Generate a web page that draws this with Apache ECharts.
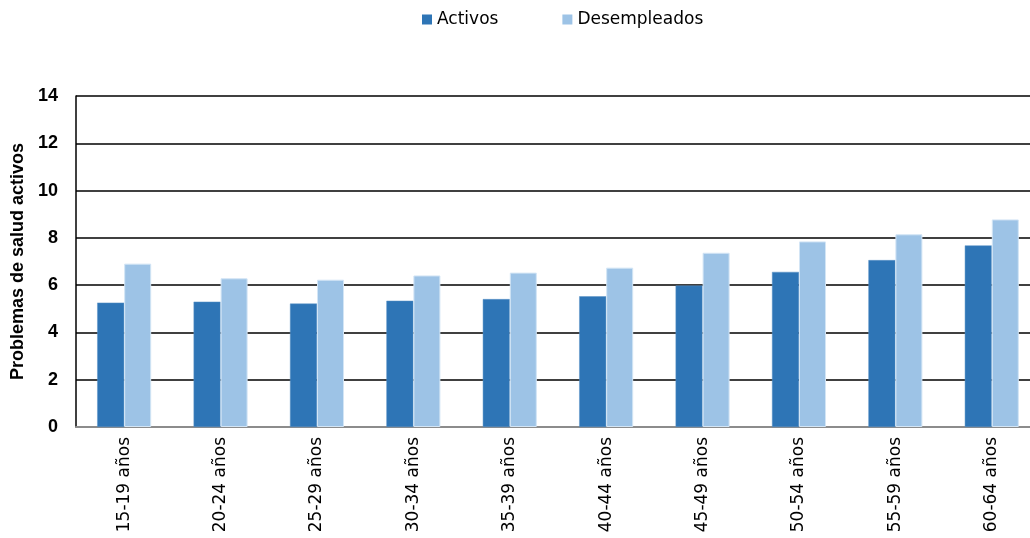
<!DOCTYPE html>
<html>
<head>
<meta charset="utf-8">
<script src="https://cdn.jsdelivr.net/npm/echarts@6/dist/echarts.min.js"></script>
<style>
  html, body { margin: 0; padding: 0; background: #fff; overflow: hidden; }
  /* el área de trazado sale del borde derecho, como en el original */
  #chart { width: 1040px; height: 538px; }
</style>
</head>
<body>
<div id="chart"></div>
<script>
// datos
var categorias = ["15-19 años", "20-24 años", "25-29 años", "30-34 años", "35-39 años",
  "40-44 años", "45-49 años", "50-54 años", "55-59 años", "60-64 años"];
var activos = [5.26, 5.30, 5.22, 5.34, 5.41, 5.53, 5.98, 6.56, 7.06, 7.68];
var desempleados = [6.91, 6.29, 6.23, 6.41, 6.53, 6.74, 7.37, 7.85, 8.15, 8.78];
var nombresSeries = ["Activos", "Desempleados"];
var ejeY = { min: 0, max: 14, interval: 2 };

var chart = echarts.init(document.getElementById("chart"));

var option = {
  animation: false,
  legend: {
    left: 417,
    top: 6,
    itemWidth: 10,
    itemHeight: 10,
    itemGap: 64,
    icon: "rect",
    itemStyle: { borderWidth: 0 },
    textStyle: { fontFamily: "DejaVu Sans", fontSize: 17, color: "#000" },
    data: nombresSeries
  },
  grid: { left: 76, top: 96, right: 0, height: 331 },
  xAxis: {
    type: "category",
    data: categorias,
    axisLine: { lineStyle: { color: "#8c8c8c", width: 2 } },
    axisTick: { show: false },
    axisLabel: {
      rotate: 90,
      margin: 10,
      interval: 0,
      color: "#000",
      fontFamily: "DejaVu Sans",
      fontSize: 17
    }
  },
  yAxis: {
    type: "value",
    min: ejeY.min,
    max: ejeY.max,
    interval: ejeY.interval,
    name: "Problemas de salud activos",
    nameLocation: "middle",
    nameRotate: 90,
    nameGap: 48,
    nameTextStyle: { fontFamily: "Liberation Sans", fontWeight: "bold", fontSize: 18, color: "#000" },
    axisLine: { show: true, lineStyle: { color: "#000", width: 1.5 } },
    axisTick: { show: false },
    axisLabel: {
      margin: 18,
      color: "#000",
      fontFamily: "Liberation Sans",
      fontWeight: "bold",
      fontSize: 18
    },
    splitLine: { lineStyle: { color: "#000", width: 1.5 } }
  },
  series: [
    {
      name: nombresSeries[0],
      type: "bar",
      data: activos,
      barWidth: 27,
      barGap: "0%",
      itemStyle: { color: "#2e75b6", borderColor: "#5b92c6", borderWidth: 0.5 }
    },
    {
      name: nombresSeries[1],
      type: "bar",
      data: desempleados,
      barWidth: 27,
      itemStyle: { color: "#9dc3e6", borderColor: "#d3e5f5", borderWidth: 1 }
    }
  ]
};

chart.setOption(option);
</script>
</body>
</html>
